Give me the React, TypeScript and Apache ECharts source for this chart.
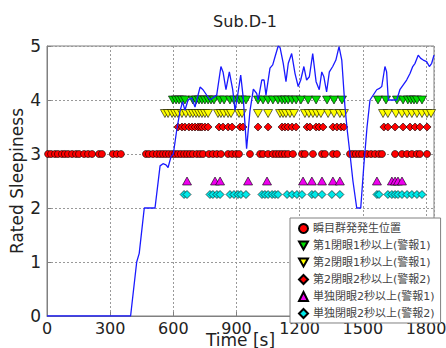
import React, { useEffect, useRef } from "react";
import * as echarts from "echarts";

const title = "Sub.D-1";
const xTicks = [0, 300, 600, 900, 1200, 1500, 1800];

const sleepT = [0, 397, 426, 438, 462, 513, 537, 551, 565, 575, 589, 600, 616, 632, 644, 655, 670, 687, 703, 727, 741, 774, 806, 826, 836, 850, 866, 882, 893, 902, 920, 932, 948, 964, 980, 996, 1003, 1020, 1031, 1040, 1059, 1072, 1083, 1098, 1107, 1122, 1135, 1146, 1162, 1178, 1193, 1205, 1220, 1233, 1246, 1262, 1278, 1293, 1305, 1315, 1328, 1341, 1357, 1372, 1387, 1400, 1415, 1426, 1439, 1453, 1471, 1490, 1505, 1520, 1534, 1566, 1581, 1590, 1605, 1613, 1621, 1661, 1676, 1692, 1708, 1724, 1737, 1748, 1763, 1775, 1787, 1803, 1816, 1827, 1838];
const sleepV = [0, 0, 1, 1.16, 2, 2, 2.78, 2.82, 2.8, 2.75, 2.95, 3, 3.44, 3.8, 3.97, 3.81, 4, 4.04, 3.87, 4.24, 4.19, 4, 4.09, 4.62, 4.52, 4.19, 4.52, 4.19, 3.81, 4, 4.46, 4.04, 3.1, 3.8, 4.2, 4.12, 4, 4.37, 4.37, 4.09, 4.59, 4.65, 4.8, 5, 4.97, 4.68, 4.34, 4.68, 4.86, 4.49, 4.25, 4.37, 4.62, 4.37, 4.43, 4.86, 4.34, 4.19, 4.52, 4.43, 4.15, 4.52, 4.62, 4.74, 4.99, 4.74, 3.88, 3.44, 3, 2.5, 2, 2, 2.8, 3.5, 4, 4.19, 4.22, 4.25, 4.62, 4.52, 4, 4, 4.19, 4.28, 4.37, 4.49, 4.62, 4.68, 4.83, 4.77, 4.74, 4.71, 4.62, 4.68, 4.83];

const blinkT = [5, 19, 38, 52, 71, 85, 100, 119, 138, 152, 176, 195, 214, 247, 261, 313, 332, 351, 470, 484, 503, 522, 537, 551, 565, 579, 594, 608, 622, 636, 651, 665, 679, 693, 712, 727, 741, 769, 788, 807, 826, 860, 879, 898, 912, 964, 1012, 1026, 1050, 1073, 1088, 1102, 1116, 1130, 1145, 1168, 1211, 1225, 1263, 1306, 1320, 1358, 1377, 1439, 1453, 1467, 1482, 1496, 1520, 1539, 1558, 1577, 1591, 1653, 1686, 1710, 1733, 1757, 1771, 1805];
const first1sT = [598, 613, 627, 641, 655, 693, 708, 722, 736, 750, 765, 779, 793, 822, 841, 869, 888, 912, 926, 945, 1002, 1026, 1050, 1073, 1097, 1116, 1130, 1145, 1164, 1183, 1206, 1240, 1278, 1330, 1363, 1401, 1572, 1610, 1662, 1691, 1714, 1729, 1743, 1757, 1781];
const second1sT = [560, 575, 594, 608, 622, 641, 660, 679, 693, 708, 722, 736, 750, 765, 812, 826, 841, 860, 874, 912, 926, 1002, 1050, 1107, 1121, 1135, 1154, 1173, 1225, 1244, 1263, 1282, 1301, 1335, 1363, 1391, 1410, 1596, 1619, 1657, 1686, 1710, 1733, 1757, 1781, 1805, 1824];
const second2sT = [622, 641, 655, 674, 689, 703, 717, 727, 736, 750, 765, 817, 836, 860, 879, 917, 931, 1002, 1050, 1116, 1130, 1145, 1164, 1183, 1235, 1249, 1278, 1292, 1311, 1358, 1377, 1396, 1410, 1600, 1619, 1653, 1691, 1724, 1748, 1771, 1805];
const single2s1T = [665, 798, 822, 955, 1045, 1216, 1258, 1306, 1358, 1391, 1567, 1638, 1653, 1667, 1686];
const single2s2T = [651, 665, 774, 788, 807, 822, 869, 888, 907, 921, 945, 1021, 1035, 1050, 1069, 1083, 1097, 1140, 1164, 1187, 1211, 1258, 1273, 1306, 1353, 1391, 1567, 1577, 1619, 1638, 1653, 1667, 1686, 1710, 1733, 1757, 1781];

const seriesNames = [
  "瞬目群発発生位置",
  "第1閉眼1秒以上(警報1)",
  "第2閉眼1秒以上(警報1)",
  "第2閉眼2秒以上(警報2)",
  "単独閉眼2秒以上(警報1)",
  "単独閉眼2秒以上(警報2)",
];
const levels = [3, 4, 3.75, 3.5, 2.5, 2.25];

const FONT = "'DejaVu Sans', 'Noto Sans CJK JP', sans-serif";
const DOWN_TRI = "path://M0,0L10,0L5,9Z";

export default function App() {
  const ref = useRef<HTMLDivElement>(null);
  useEffect(() => {
    if (!ref.current) return;
    const chart = echarts.init(ref.current, null, { renderer: "svg" });
    const pts = (ts: number[], y: number) => ts.map((t) => [t, y]);
    const scat = (name: string, ts: number[], y: number, symbol: string, size: number | number[], color: string) => ({
      name,
      type: "scatter",
      data: pts(ts, y),
      symbol,
      symbolSize: size,
      itemStyle: { color, borderColor: "#000", borderWidth: 0.6, opacity: 1 },
      z: 3,
    });
    const legendIcons = ["circle", DOWN_TRI, DOWN_TRI, "diamond", "triangle", "diamond"];
    chart.setOption({
      animation: false,
      backgroundColor: "#fff",
      textStyle: { fontFamily: FONT },
      title: {
        text: title,
        left: 240,
        textAlign: "center",
        top: 8,
        textStyle: { fontSize: 16, fontWeight: "normal", color: "#222", fontFamily: FONT },
      },
      grid: {
        left: 47,
        right: 12,
        top: 46,
        bottom: 32,
        containLabel: false,
        outerBoundsMode: "none",
        show: true,
        borderColor: "#808080",
        borderWidth: 1,
      },
      legend: {
        orient: "vertical",
        left: 290,
        top: 218,
        padding: [5, 6, 4, 8],
        itemWidth: 9,
        itemHeight: 9,
        itemGap: 6,
        backgroundColor: "#fff",
        borderColor: "#808080",
        borderWidth: 1,
        borderRadius: 0,
        data: seriesNames.map((n, i) => ({ name: n, icon: legendIcons[i] })),
        textStyle: { fontSize: 11, color: "#444", fontFamily: FONT },
        z: 10,
      },
      xAxis: {
        type: "value",
        min: 0,
        max: 1838,
        interval: 300,
        name: "Time [s]",
        nameLocation: "middle",
        nameGap: 15,
        nameMoveOverlap: false,
        nameTextStyle: { fontSize: 17, color: "#222", fontFamily: FONT, verticalAlign: "top" },
        axisLine: { show: true, lineStyle: { color: "#808080" } },
        axisTick: { show: true, inside: true, length: 4, lineStyle: { color: "#808080" } },
        axisLabel: {
          fontSize: 16,
          color: "#222",
          margin: 4,
          showMaxLabel: false,
          formatter: (v: number) => (xTicks.includes(v) ? String(v) : ""),
        },
        splitLine: { show: true, lineStyle: { color: "#999", type: [2, 2], width: 1 } },
      },
      yAxis: {
        type: "value",
        min: 0,
        max: 5,
        interval: 1,
        name: "Rated Sleepiness",
        nameLocation: "middle",
        nameGap: 22,
        nameMoveOverlap: false,
        nameTextStyle: { fontSize: 17, color: "#222", fontFamily: FONT },
        axisLine: { show: true, lineStyle: { color: "#808080" } },
        axisTick: { show: true, inside: true, length: 4, lineStyle: { color: "#808080" } },
        axisLabel: { fontSize: 17, color: "#222", margin: 6 },
        splitLine: { show: true, lineStyle: { color: "#999", type: [2, 2], width: 1 } },
      },
      series: [
        {
          name: "Rated Sleepiness",
          type: "line",
          data: sleepT.map((t, i) => [t, sleepV[i]]),
          showSymbol: false,
          symbol: "none",
          lineStyle: { color: "#1a1aff", width: 1.3 },
          z: 4,
        },
        scat(seriesNames[0], blinkT, levels[0], "circle", 7, "#ff0000"),
        scat(seriesNames[1], first1sT, levels[1], DOWN_TRI, [9, 8], "#00dd00"),
        scat(seriesNames[2], second1sT, levels[2], DOWN_TRI, [9, 8], "#ffff00"),
        scat(seriesNames[3], second2sT, levels[3], "diamond", 8, "#ff0000"),
        scat(seriesNames[4], single2s1T, levels[4], "triangle", [9, 8], "#ee00ee"),
        scat(seriesNames[5], single2s2T, levels[5], "diamond", 8, "#00e8e8"),
      ],
    });
    return () => chart.dispose();
  }, []);
  return <div ref={ref} style={{ width: 446, height: 348, position: "absolute", left: 0, top: 0 }} />;
}
